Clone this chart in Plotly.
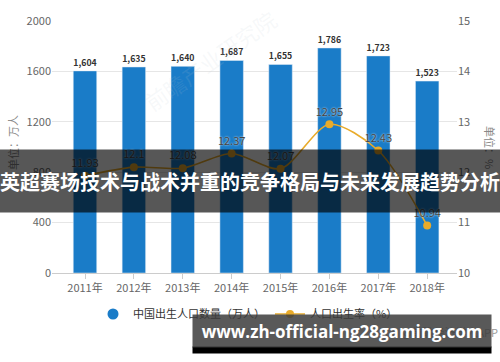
import plotly.graph_objects as go

years = ["2011年", "2012年", "2013年", "2014年", "2015年", "2016年", "2017年", "2018年"]
births = [1604, 1635, 1640, 1687, 1655, 1786, 1723, 1523]
birth_rate = [11.93, 12.1, 12.08, 12.37, 12.07, 12.95, 12.43, 10.94]
rate_labels = ["11.93", "12.1", "12.08", "12.37", "12.07", "12.95", "12.43", "10.94"]

W, H = 500, 362
L, R, T, B = 52, 457, 21, 273

def px(p):
    return (p - L) / (R - L)

def py(p):
    return (B - p) / (B - T)

BLUE = "#1a7cc8"
GOLD = "#e9ab2a"
FONT = "Noto Sans CJK SC"

fig = go.Figure()
fig.add_trace(go.Bar(
    x=list(range(len(years))), y=births, marker_color=BLUE, width=0.48,
    texttemplate="<b>%{y:,}</b>", textposition="outside",
    textfont=dict(size=12, color="#333333", family=FONT),
    cliponaxis=False, showlegend=False, name="中国出生人口数量（万人）"))
fig.add_trace(go.Scatter(
    x=[None], y=[None], mode="markers", name="中国出生人口数量（万人）",
    marker=dict(color=BLUE, size=11, symbol="circle")))
fig.add_trace(go.Scatter(
    x=list(range(len(years))), y=birth_rate, yaxis="y2", mode="lines+markers+text",
    line=dict(color=GOLD, width=1.6, shape="spline", smoothing=0.8),
    marker=dict(color=GOLD, size=8),
    text=rate_labels, textposition="top center",
    textfont=dict(size=11, color="#444444", family=FONT, shadow="0px 0px 2px white"),
    cliponaxis=False, name="人口出生率（%）"))

fig.update_layout(
    width=W, height=H, margin=dict(l=L, r=W - R, t=T, b=H - B),
    paper_bgcolor="white", plot_bgcolor="white",
    font=dict(family=FONT, size=11, color="#666666"),
    bargap=0.5,
    xaxis=dict(range=[-0.675, 7.61], tickmode="array", tickvals=list(range(8)), ticktext=years,
               showgrid=False, showline=True, linecolor="#cccccc", ticks="outside",
               tickcolor="#cccccc", ticklen=5, zeroline=False,
               tickfont=dict(size=11, color="#666666")),
    yaxis=dict(range=[0, 2000], dtick=400, showgrid=True, gridcolor="#e6e6e6",
               zeroline=False, showline=False, tickfont=dict(size=11, color="#666666")),
    yaxis2=dict(range=[10, 15], dtick=1, overlaying="y", side="right", showgrid=False,
                zeroline=False, showline=False, tickfont=dict(size=11, color="#666666")),
    legend=dict(orientation="h", x=px(248), y=py(314), xanchor="center", yanchor="middle",
                font=dict(size=11, color="#333333", family=FONT), bgcolor="rgba(0,0,0,0)",
                itemwidth=30),
)

ann = []
ann.append(dict(text="单位：万人", x=px(13), y=py(143), textangle=-90,
                font=dict(size=11, color="#888888")))
ann.append(dict(text="单位：%", x=px(490), y=py(147), textangle=90,
                font=dict(size=11, color="#888888")))
ann.append(dict(text="前瞻产业研究院", x=px(210), y=py(60), textangle=-35,
                font=dict(size=22, color="rgba(190,200,210,0.12)")))
ann.append(dict(text="@前瞻经济学人APP", x=px(500), y=py(332), xanchor="right",
                font=dict(size=11, color="#999999")))
# title banner
ann.append(dict(text="<b>英超赛场技术与战术并重的竞争格局与未来发展趋势分析</b>",
                x=px(250), y=py(181), width=500, height=62, bgcolor="rgba(0,0,0,0.66)",
                borderpad=0, font=dict(size=20, color="white", family=FONT)))
# url banner
ann.append(dict(text="", x=px(342), y=py(350), width=298, height=6, bgcolor="#000000", borderpad=0))
ann.append(dict(text="<b>www.zh-official-ng28gaming.com</b>",
                x=px(342), y=py(331), width=298, height=32, bgcolor="rgba(60,60,60,0.85)",
                borderpad=0, font=dict(size=17, color="white", family="Open Sans")))
for a in ann:
    a.setdefault("xref", "paper")
    a.setdefault("yref", "paper")
    a.setdefault("showarrow", False)
    a.setdefault("xanchor", "center")
    a.setdefault("yanchor", "middle")
fig.update_layout(annotations=ann)

fig.write_html("out.html")
